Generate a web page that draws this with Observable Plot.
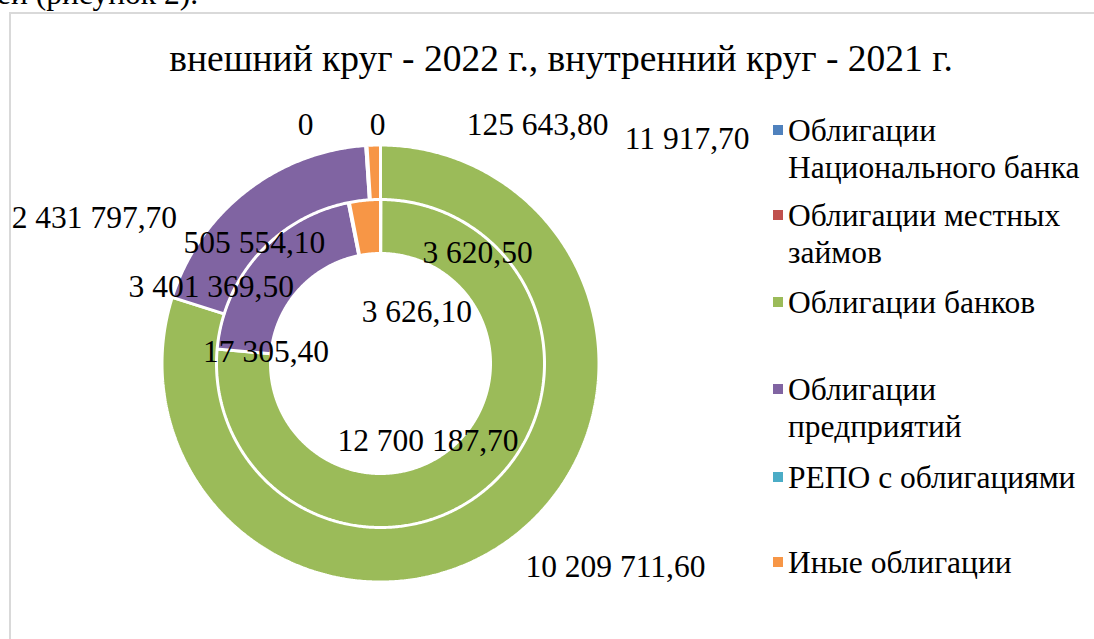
<!DOCTYPE html>
<html>
<head>
<meta charset="utf-8">
<script src="https://cdn.jsdelivr.net/npm/d3@7"></script>
<script src="https://cdn.jsdelivr.net/npm/@observablehq/plot@0.6"></script>
<style>
  html, body { margin: 0; padding: 0; background: #fff; }
  body { width: 1094px; height: 639px; overflow: hidden; position: relative;
         font-family: "Times New Roman", "Liberation Serif", LiberationSerif, Tinos, "DejaVu Serif", "Noto Serif", FreeSerif, serif; color: #000; }
  #above { position: absolute; left: -3px; top: -24px; font-size: 31.5px; line-height: 36px; white-space: nowrap; }
  #frame { position: absolute; left: 9px; top: 12px; width: 1200px; height: 700px; border: 2px solid #d9d9d9; box-sizing: border-box; }
  #chart { position: absolute; left: 0; top: 0; }
  #title { position: absolute; left: 0; width: 1122px; top: 37px; text-align: center; font-size: 37.5px; line-height: 44px; white-space: nowrap; }
  .leg { position: absolute; left: 773px; font-size: 31.5px; line-height: 37px; }
  .leg .sw { position: absolute; left: 0; top: 13px; width: 10px; height: 10px; }
  .leg .tx { position: absolute; left: 15px; top: 0; width: 305px; }
</style>
</head>
<body>
<div id="above">ей (рисунок 2).</div>
<div id="frame"></div>
<div id="chart"></div>
<div id="title">внешний круг - 2022 г., внутренний круг - 2021 г.</div>
<div id="legend"></div>
<script>
// ---- data ----
const categories = [
  "Облигации Национального банка",
  "Облигации местных займов",
  "Облигации банков",
  "Облигации предприятий",
  "РЕПО с облигациями",
  "Иные облигации"
];
const colors = ["#4F81BD", "#C0504D", "#9BBB59", "#8064A2", "#4BACC6", "#F79646"];
const values2021 = [3620.5, 3626.1, 12700187.7, 3401369.5, 17305.4, 505554.1]; // inner ring
const values2022 = [0, 0, 10209711.6, 2431797.7, 11917.7, 125643.8];          // outer ring

// ---- layout (not data) ----
const W = 1094, H = 639;
const cx = 380, cy = 363;
const serif = '"Times New Roman", "Liberation Serif", LiberationSerif, Tinos, "DejaVu Serif", "Noto Serif", FreeSerif, serif';
const rings = [
  {year: "2021", values: values2021, r0: 110, r1: 164.5},
  {year: "2022", values: values2022, r0: 164, r1: 218.5}
];
// label nudges (px) from slice centroid, Excel-like placement
const nudge2021 = [[97, 27], [36, 86], [-45, -24], [-67, 15], [-88, 123], [-113, 16]];
const nudge2022 = [[-75, -47], [-3, -47], [122, 49], [-168, 5], [319, -34], [163, -47]];
const nudges = {"2021": nudge2021, "2022": nudge2022};
const legendTops = [112, 197, 284, 371, 459, 544];

const fmt = d3.formatLocale({decimal: ",", thousands: "\u00a0", grouping: [3]}).format(",.2f");
const fmtLabel = v => v === 0 ? "0" : fmt(v);

const pt = (deg, r) => {
  const a = deg * Math.PI / 180;
  return [cx + r * Math.sin(a), cy - r * Math.cos(a)];
};

const polys = [];
const labels = [];
for (const ring of rings) {
  const total = d3.sum(ring.values);
  let start = 0;
  ring.values.forEach((v, i) => {
    const sweep = v / total * 360;
    const end = start + sweep;
    const key = ring.year + "-" + i;
    const n = Math.max(2, Math.ceil(sweep / 0.5) + 1);
    const pts = [];
    for (let k = 0; k < n; k++) pts.push(pt(start + sweep * k / (n - 1), ring.r1));
    for (let k = n - 1; k >= 0; k--) pts.push(pt(start + sweep * k / (n - 1), ring.r0));
    pts.push(pts[0]);
    if (v > 0) for (const [x, y] of pts) polys.push({key, cat: categories[i], x, y});
    const [lx, ly] = pt((start + end) / 2, (ring.r0 + ring.r1) / 2);
    const [dx, dy] = nudges[ring.year][i];
    labels.push({x: lx + dx, y: ly + dy, text: fmtLabel(v)});
    start = end;
  });
}

const chart = Plot.plot({
  width: W, height: H,
  margin: 0,
  x: {domain: [0, W], range: [0, W], axis: null},
  y: {domain: [0, H], range: [0, H], axis: null},
  color: {domain: categories, range: colors},
  style: {background: "transparent", fontFamily: serif},
  marks: [
    Plot.line(polys, {x: "x", y: "y", z: "key", fill: "cat", stroke: "white", strokeWidth: 3, strokeLinejoin: "miter", curve: "linear"}),
    Plot.text(labels, {x: "x", y: "y", text: "text", fontSize: 31.5, fill: "black", textAnchor: "middle", lineAnchor: "middle"})
  ]
});
chart.querySelectorAll("text").forEach(t => t.style.fontFamily = serif);
chart.querySelectorAll("g").forEach(g => { if (g.getAttribute("font-family")) g.setAttribute("font-family", serif); });
document.getElementById("chart").appendChild(chart);

const legend = document.getElementById("legend");
categories.forEach((c, i) => {
  const d = document.createElement("div");
  d.className = "leg";
  d.style.top = legendTops[i] + "px";
  d.innerHTML = `<div class="sw" style="background:${colors[i]}"></div><div class="tx"></div>`;
  d.querySelector(".tx").textContent = c;
  legend.appendChild(d);
});
</script>
</body>
</html>
